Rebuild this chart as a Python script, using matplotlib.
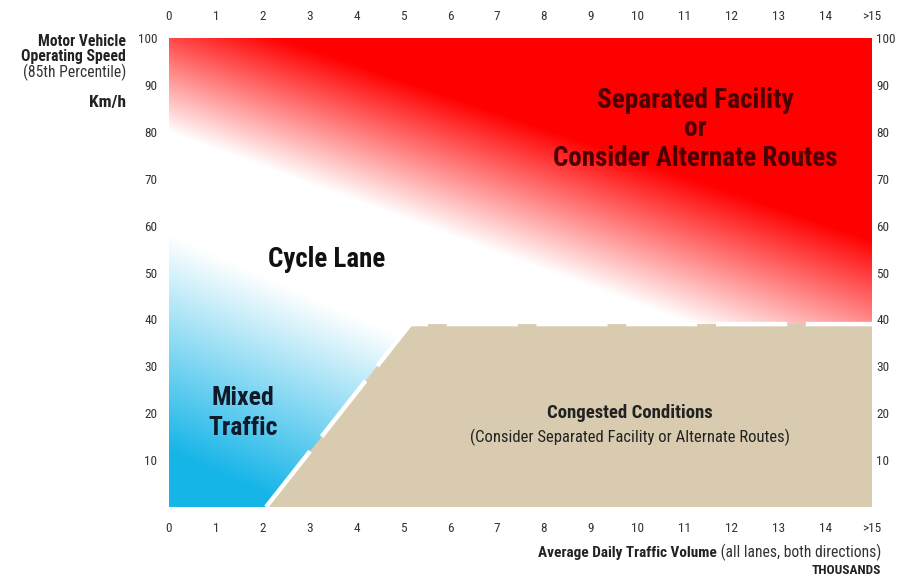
import numpy as np
import matplotlib
matplotlib.use("Agg")
import matplotlib.pyplot as plt
from matplotlib import font_manager

# ---------------- data ----------------
volume_ticks = list(range(16))
volume_labels = [str(v) for v in range(15)] + [">15"]
speed_ticks = [10, 20, 30, 40, 50, 60, 70, 80, 90, 100]

# congested-conditions zone boundary (volume, speed)
congested_x = [2.07, 5.15, 15.0, 15.0]
congested_y = [0.0, 39.0, 39.0, 0.0]

# separated-facility (red) fade: speed where fade is white / fully red
red_x = [0.0, 15.0]
red_white = [80.0, 25.0]
red_solid = [108.0, 57.0]

# mixed-traffic (blue) fade: speed where fade is white / fully blue
blue_x = [0.0, 15.0]
blue_white = [58.0, -8.0]
blue_solid = [12.0, -54.0]

# ---------------- fonts ----------------
ttf = font_manager.fontManager.ttflist
names = {f.name for f in ttf}
stretch = 'normal'
narrow = None
for c in ['Liberation Sans Narrow', 'Roboto Condensed', 'Open Sans Condensed',
          'Arial Narrow', 'DejaVu Sans Condensed', 'Noto Sans Condensed']:
    if c in names:
        narrow = c
        break
if narrow is None:
    if any(f.name == 'DejaVu Sans' and 'condensed' in str(f.stretch) for f in ttf):
        narrow, stretch = 'DejaVu Sans', 'condensed'
    elif 'Liberation Sans' in names:
        narrow = 'Liberation Sans'
    else:
        narrow = 'DejaVu Sans'
plt.rcParams['font.family'] = [narrow, 'DejaVu Sans']
plt.rcParams['font.stretch'] = stretch

RED = np.array([1.0, 0.0, 0.0])
BLUE = np.array([0.09, 0.71, 0.91])
TAN = '#d9cbb0'
TICK = '#333333'

fig = plt.figure(figsize=(9, 5.78), dpi=100)
ax = fig.add_axes([169/900, 1-507/578, (872-169)/900, (507-38)/578])

nx, ny = 700, 470
xs = np.linspace(0, 15, nx)
ys = np.linspace(0, 100, ny)
X, Y = np.meshgrid(xs, ys)
w = np.interp(X, red_x, red_white)
s = np.interp(X, red_x, red_solid)
ar = np.clip((Y - w) / (s - w), 0, 1)[..., None]
bw = np.interp(X, blue_x, blue_white)
bs = np.interp(X, blue_x, blue_solid)
ab = np.clip((bw - Y) / (bw - bs), 0, 1)[..., None]
img = np.ones((ny, nx, 3))
img = img * (1 - ar) + RED * ar
img = img * (1 - ab) + BLUE * ab
ax.imshow(img, origin='lower', extent=[0, 15, 0, 100], aspect='auto',
          interpolation='bilinear', zorder=0)

ax.fill(congested_x, congested_y, color=TAN, lw=0, zorder=1)
ax.plot(congested_x[:3], congested_y[:3], color='white', lw=3.2,
        dashes=(16.0, 4.2), dash_capstyle='butt', zorder=2)

ax.set_xlim(0, 15)
ax.set_ylim(0, 100)
for sp in ax.spines.values():
    sp.set_visible(False)
ax.set_xticks(volume_ticks)
ax.set_xticklabels(volume_labels)
ax.set_yticks(speed_ticks)
ax.tick_params(axis='x', bottom=False, top=False, labelbottom=True, labeltop=True,
               pad=7, labelsize=9.5, labelcolor=TICK)
ax.tick_params(axis='y', left=False, right=False, labelleft=True, labelright=False,
               pad=5, labelsize=9.5, labelcolor=TICK)
sec = ax.secondary_yaxis('right')
sec.set_yticks(speed_ticks)
sec.tick_params(axis='y', which='both', right=False, length=0, pad=3,
                labelsize=9.5, labelcolor=TICK)
sec.spines['right'].set_visible(False)

texts = []
def T(x, y, s, target, transform=None, **kw):
    kw.setdefault('ha', 'center')
    kw.setdefault('va', 'center')
    if transform is None:
        t = ax.text(x, y, s, **kw)
    else:
        t = fig.text(x, y, s, **kw)
    texts.append((t, target))
    return t

DR = '#4a0000'
t_sep = T(11.22, 86.6, 'Separated Facility', 197, fontsize=14.5, fontweight='bold', color=DR)
t_or = T(11.22, 80.8, 'or', None, fontsize=14.5, fontweight='bold', color=DR)
T(11.22, 74.4, 'Consider Alternate Routes', 285, fontsize=14.5, fontweight='bold', color=DR)
T(3.37, 52.7, 'Cycle Lane', 118, fontsize=14, fontweight='bold', color='#111111')
t_mixed = T(1.58, 23.2, 'Mixed', 65, fontsize=14, fontweight='bold', color='#111a2a')
t_traf = T(1.58, 16.8, 'Traffic', 70, fontsize=14, fontweight='bold', color='#111a2a')
T(9.84, 20.0, 'Congested Conditions', 166, fontsize=10, fontweight='bold', color='#222222')
T(9.84, 14.9, '(Consider Separated Facility or Alternate Routes)', 318,
  fontsize=10, color='#222222')

F = 'fig'
T(126/900, 1-42/578, 'Motor Vehicle', 88, transform=F, ha='right',
  fontsize=9, fontweight='bold', color='#222222')
T(126/900, 1-57/578, 'Operating Speed', 105, transform=F, ha='right',
  fontsize=9, fontweight='bold', color='#222222')
T(126/900, 1-72/578, '(85th Percentile)', 103, transform=F, ha='right',
  fontsize=9, color='#333333')
T(126/900, 1-103/578, 'Km/h', 37, transform=F, ha='right',
  fontsize=9, fontweight='bold', color='#222222')

base_y = 1 - 557/578
t1 = T(881/900, base_y, ' (all lanes, both directions)', 165, transform=F,
       ha='right', va='baseline', fontsize=9, color='#333333')
t2 = T(700/900, base_y, 'Average Daily Traffic Volume', 180, transform=F,
       ha='right', va='baseline', fontsize=9, fontweight='bold', color='#222222')
T(881/900, 1-571/578, 'THOUSANDS', 70, transform=F, ha='right',
  fontsize=9, fontweight='bold', color='#222222')

# fit text sizes to the reference widths
renderer = fig.canvas.get_renderer()
for t, target in texts:
    if target is None:
        continue
    bb = t.get_window_extent(renderer)
    if bb.width > 0:
        t.set_fontsize(t.get_fontsize() * target / bb.width)
t_or.set_fontsize(t_sep.get_fontsize())
m = min(t_mixed.get_fontsize(), t_traf.get_fontsize())
t_mixed.set_fontsize(m)
t_traf.set_fontsize(m)
bb1 = t1.get_window_extent(renderer)
t2.set_position((bb1.x0 / fig.bbox.width, base_y))

fig.savefig('out.png', dpi=100)
